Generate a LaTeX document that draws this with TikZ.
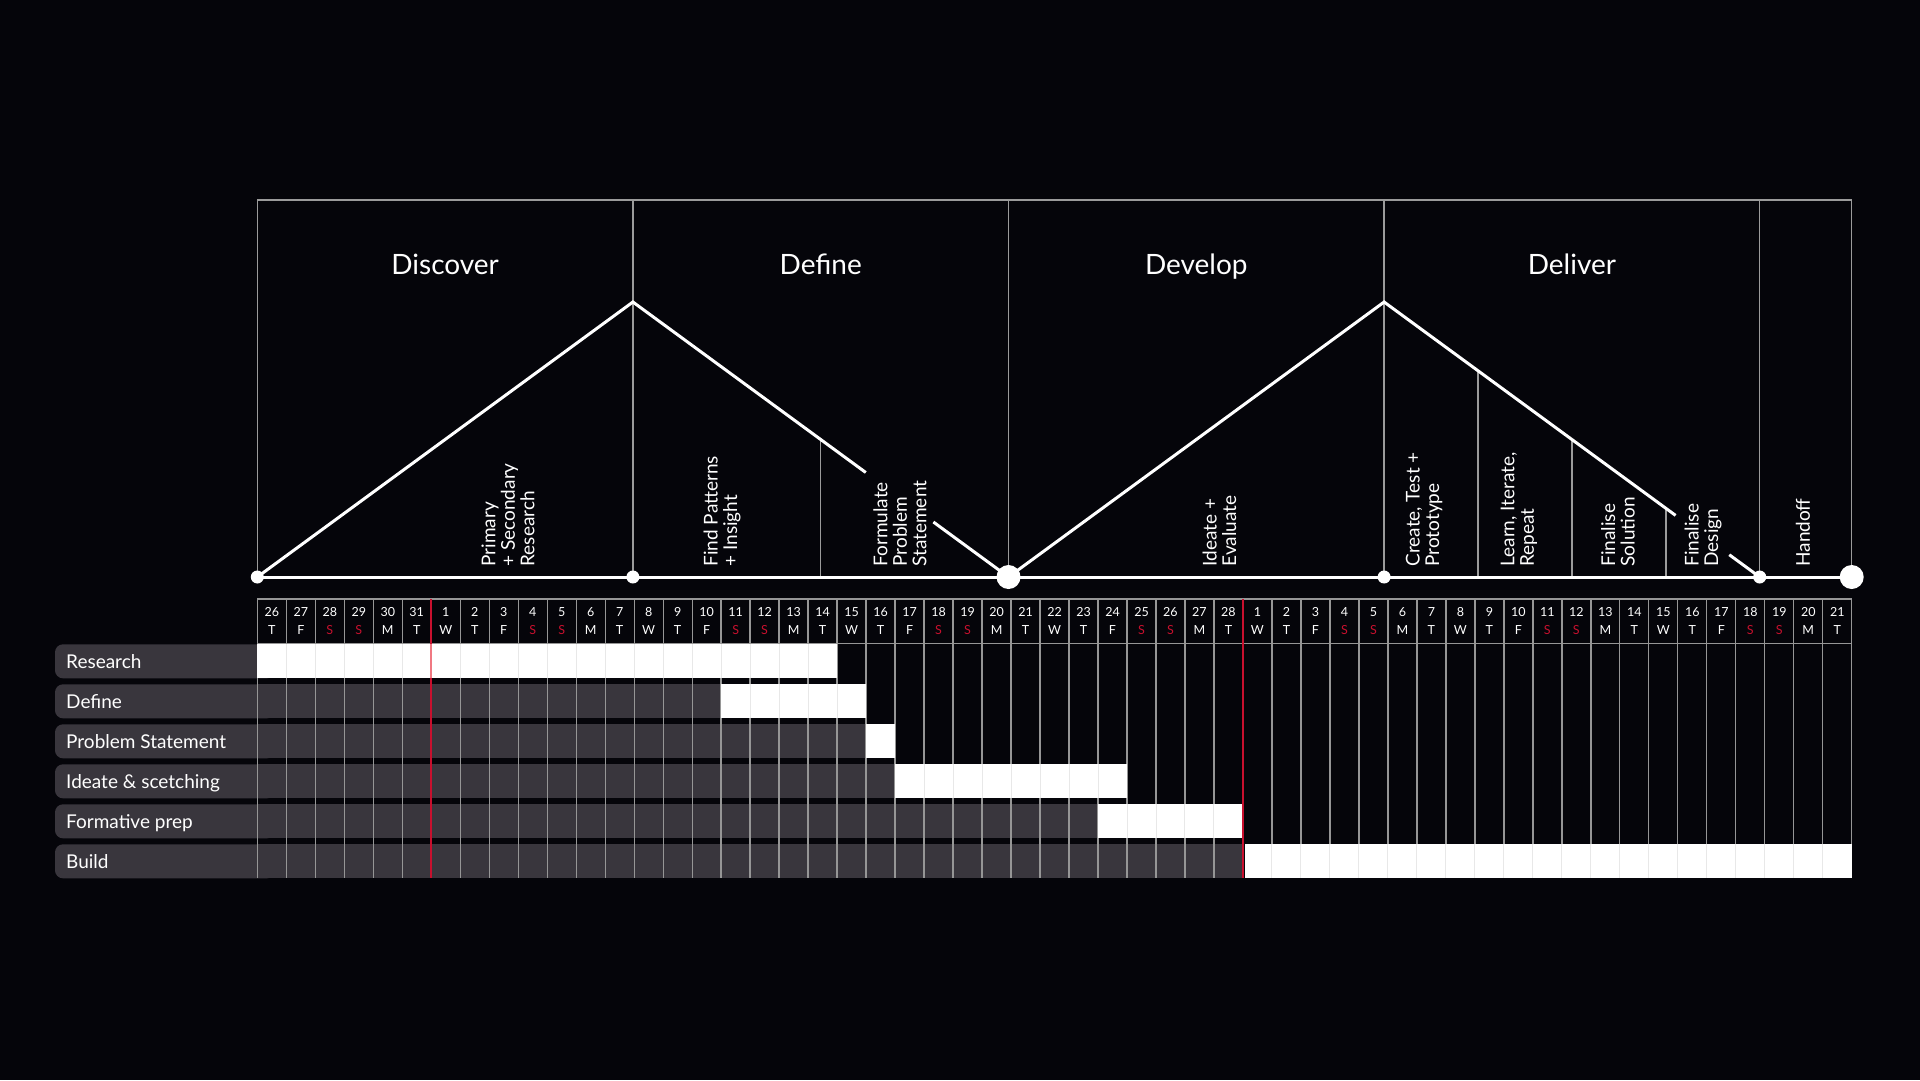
\documentclass[tikz,border=0pt]{standalone}
\usepackage{fontspec}
\setmainfont{Lato}
\usetikzlibrary{calc}
\definecolor{bg}{RGB}{5,5,10}
\definecolor{cellgray}{RGB}{57,54,61}
\definecolor{gridgray}{RGB}{150,150,150}
\definecolor{framegray}{RGB}{155,155,155}
\definecolor{accent}{RGB}{200,16,46}
\definecolor{faintgray}{RGB}{232,232,232}
\definecolor{pinkred}{RGB}{240,120,130}
\begin{document}
\begin{tikzpicture}[x=1pt,y=-1pt,
  phaseframe/.style={draw=framegray,line width=1.5pt},
  flowline/.style={draw=white,line width=3pt,line join=miter},
  smalldot/.style={circle,fill=white,inner sep=0pt,minimum size=13pt},
  bigdot/.style={circle,fill=white,inner sep=0pt,minimum size=24pt},
  phasetitle/.style={text=white,font=\fontsize{28}{30}\selectfont,inner sep=0pt,anchor=base},
  steplabel/.style={text=white,font=\fontsize{19}{19.5}\selectfont,rotate=90,anchor=west,align=left,inner sep=0pt},
  rowlabel/.style={text=white,font=\fontsize{19}{22}\selectfont,anchor=base west,inner sep=0pt},
  daynum/.style={text=white,font=\fontsize{12.5}{12.5}\selectfont,inner sep=0pt,anchor=base},
  gridrule/.style={draw=gridgray,line width=1.3pt},
  faintrule/.style={draw=faintgray,line width=1pt},
  redrule/.style={draw=accent,line width=1.6pt},
  pinkrule/.style={draw=pinkred,line width=1.6pt}
]
\useasboundingbox (0,0) rectangle (1920,1080);
\fill[bg] (0,0) rectangle (1920,1080);
\def\gx{257.3}\def\cw{28.99}\def\gr{1851.7}

% ---------- phase diagram ----------
\coordinate (P0) at (257.3,577);
\coordinate (P1) at (632.9,577);
\coordinate (P2) at (1008.5,577);
\coordinate (P3) at (1384.1,577);
\coordinate (P4) at (1759.7,577);
\coordinate (P5) at (1851.7,577);
\coordinate (T0) at (257.3,200);
\coordinate (T1) at (632.9,200);
\coordinate (T2) at (1008.5,200);
\coordinate (T3) at (1384.1,200);
\coordinate (T4) at (1759.7,200);
\coordinate (T5) at (1851.7,200);
\coordinate (A1) at (632.9,302);
\coordinate (A2) at (1384.1,302);

\draw[phaseframe] (T0) -- (T5);
\foreach \n in {0,...,5} \draw[phaseframe] (T\n) -- (P\n);

\coordinate (S0) at ($(A1)!0.5!(P2)$);
\coordinate (S1) at ($(A2)!0.25!(P4)$);
\coordinate (S2) at ($(A2)!0.5!(P4)$);
\coordinate (S3) at ($(A2)!0.75!(P4)$);
\foreach \n in {0,...,3} \draw[phaseframe] (S\n) -- (S\n |- P0);

\coordinate (G1a) at ($(A1)!0.62!(P2)$);
\coordinate (G1b) at ($(A1)!0.80!(P2)$);
\coordinate (G2a) at ($(A2)!0.776!(P4)$);
\coordinate (G2b) at ($(A2)!0.919!(P4)$);

\draw[flowline] (P0) -- (P5);
\draw[flowline] (P0) -- (A1) -- (G1a);
\draw[flowline] (G1b) -- (P2) -- (A2) -- (G2a);
\draw[flowline] (G2b) -- (P4);

\node[smalldot] (D0) at (P0) {};
\node[smalldot] (D1) at (P1) {};
\node[bigdot] (D2) at (P2) {};
\node[smalldot] (D3) at (P3) {};
\node[smalldot] (D4) at (P4) {};
\node[bigdot] (D5) at (P5) {};

\node[phasetitle] (hDiscover) at (445.1,274.3) {Discover};
\node[phasetitle] (hDefine) at (820.7,274.3) {Define};
\node[phasetitle] (hDevelop) at (1196.3,274.3) {Develop};
\node[phasetitle] (hDeliver) at (1571.9,274.3) {Deliver};

\node[steplabel] (sA) at (508,566.7) {Primary\\+ Secondary\\Research};
\node[steplabel] (sB) at (722,566.7) {Find Patterns\\+ Insight};
\node[steplabel] (sC) at (900,566.7) {Formulate\\Problem\\Statement};
\node[steplabel] (sD) at (1219.5,566.7) {Ideate +\\Evaluate};
\node[steplabel] (sE) at (1424,566.7) {Create, Test +\\Prototype};
\node[steplabel] (sF) at (1519,566.7) {Learn, Iterate,\\Repeat};
\node[steplabel] (sG) at (1618,566.7) {Finalise\\Solution};
\node[steplabel] (sH) at (1703,566.7) {Finalise\\Design};
\node[steplabel] (sI) at (1803,566.7) {Handoff};

% ---------- gantt grid ----------
\foreach \rw/\gs/\txt in {0/0/Research,1/16/Define,2/21/Problem Statement,3/22/Ideate \& scetching,4/29/Formative prep,5/34/Build}{
  \pgfmathsetmacro{\yt}{644.3+40*\rw}
  \pgfmathsetmacro{\yb}{\yt+34}
  \fill[cellgray,rounded corners=8pt] (55,\yt) rectangle (275,\yb);
  \ifnum\gs>0 \fill[cellgray] (\gx,\yt) rectangle ({\gx+\gs*\cw},\yb); \fi
  \node[rowlabel] (row\rw) at (66,{\yt+24.5}) {\txt};
}

\foreach \kk in {0,...,55} \draw[gridrule] ({\gx+\kk*\cw},599) -- ({\gx+\kk*\cw},878.3);
\draw[gridrule] (\gx,599) -- (\gr,599);
\draw[gridrule] (\gx,643.3) -- (\gr,643.3);

\foreach \rw/\ws/\we/\off in {0/0/20/0,1/16/21/0,2/21/22/0,3/22/30/0,4/29/34/0,5/34/55/2.5}{
  \pgfmathsetmacro{\yt}{644.3+40*\rw}
  \pgfmathsetmacro{\yb}{\yt+34}
  \fill[white] ({\gx+\ws*\cw+\off},\yt) rectangle ({\gx+\we*\cw},\yb);
  \pgfmathtruncatemacro{\ka}{\ws+1}
  \pgfmathtruncatemacro{\kb}{\we-1}
  \ifnum\ka>\kb\relax\else
    \foreach \kk in {\ka,...,\kb} \draw[faintrule] ({\gx+\kk*\cw},\yt) -- ({\gx+\kk*\cw},\yb);
  \fi
}

\draw[redrule] (431.24,599) -- (431.24,644.3);
\draw[pinkrule] (431.24,644.3) -- (431.24,678.3);
\draw[redrule] (431.24,678.3) -- (431.24,878.3);
\draw[redrule] (1242.96,599) -- (1242.96,878.3);

\foreach \ii in {0,...,54}{
  \ifnum\ii<6 \pgfmathtruncatemacro{\dnum}{26+\ii}\else\ifnum\ii<34 \pgfmathtruncatemacro{\dnum}{\ii-5}\else\pgfmathtruncatemacro{\dnum}{\ii-33}\fi\fi
  \pgfmathtruncatemacro{\wkd}{mod(\ii+3,7)}
  \pgfmathsetmacro{\xc}{\gx+(\ii+0.5)*\cw}
  \node[daynum] (dn\ii) at (\xc,616.7) {\dnum};
  \ifnum\wkd>4
    \node[daynum,text=accent] (wd\ii) at (\xc,634) {S};
  \else
    \node[daynum] (wd\ii) at (\xc,634) {\ifcase\wkd M\or T\or W\or T\or F\fi};
  \fi
}
\end{tikzpicture}
\end{document}
